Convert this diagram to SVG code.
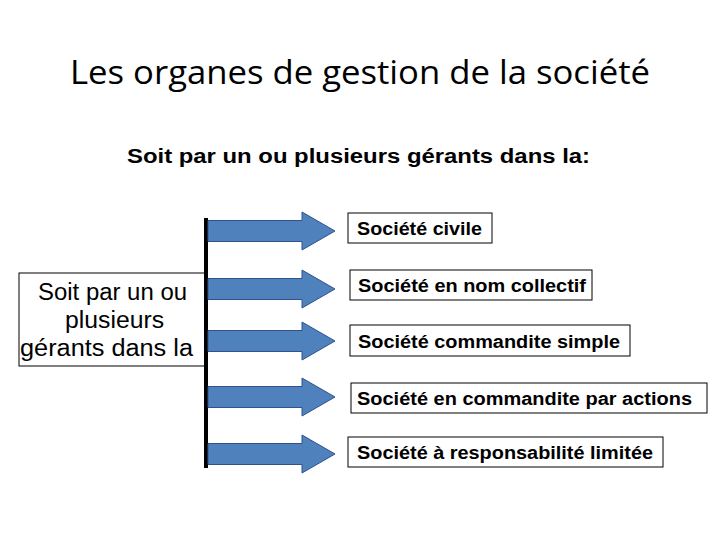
<svg xmlns="http://www.w3.org/2000/svg" width="720" height="540" viewBox="0 0 720 540">
<style>
.title{font-family:"Open Sans","Liberation Sans",sans-serif;font-size:33px;fill:#000}
.sub{font-family:"Liberation Sans",Arial,sans-serif;font-size:20px;font-weight:bold;fill:#000}
.lbl{font-family:"Liberation Sans",Arial,sans-serif;font-size:18px;font-weight:bold;fill:#000}
.left{font-family:"Liberation Sans",Arial,sans-serif;font-size:23px;fill:#000}
.box{fill:#fff;stroke:#000;stroke-width:1}
.arrow{fill:#4f81bd;stroke:#2f528f;stroke-width:1}
</style>
<defs>
<path id="arr" d="M0,-10.5 H94 V-19 L127,0 L94,19 V10.5 H0 Z"/>
</defs>
<rect width="720" height="540" fill="#fff"/>
<text class="title" x="360" y="84" text-anchor="middle" textLength="580" lengthAdjust="spacingAndGlyphs">Les organes de gestion de la société</text>
<text class="sub" x="127" y="163" textLength="463" lengthAdjust="spacingAndGlyphs">Soit par un ou plusieurs gérants dans la:</text>

<g id="source">
<rect class="box" x="19" y="273" width="188" height="93"/>
<text class="left" x="38" y="300" textLength="149" lengthAdjust="spacingAndGlyphs">Soit par un ou</text>
<text class="left" x="65" y="328" textLength="99" lengthAdjust="spacingAndGlyphs">plusieurs</text>
<text class="left" x="20" y="356" textLength="173" lengthAdjust="spacingAndGlyphs">gérants dans la</text>
</g>

<g id="connectors">
<rect x="204" y="218" width="4" height="250" fill="#000"/>
<use href="#arr" class="arrow" transform="translate(208,231)"/>
<use href="#arr" class="arrow" transform="translate(208,289)"/>
<use href="#arr" class="arrow" transform="translate(208,341)"/>
<use href="#arr" class="arrow" transform="translate(208,397)"/>
<use href="#arr" class="arrow" transform="translate(208,454)"/>
</g>

<g id="n1"><rect class="box" x="348" y="213" width="144" height="30"/><text class="lbl" x="357" y="235" textLength="125" lengthAdjust="spacingAndGlyphs">Société civile</text></g>
<g id="n2"><rect class="box" x="350" y="270" width="242" height="30"/><text class="lbl" x="358" y="292" textLength="228" lengthAdjust="spacingAndGlyphs">Société en nom collectif</text></g>
<g id="n3"><rect class="box" x="350" y="325" width="280" height="31"/><text class="lbl" x="358" y="348" textLength="262" lengthAdjust="spacingAndGlyphs">Société commandite simple</text></g>
<g id="n4"><rect class="box" x="351" y="383" width="356" height="30"/><text class="lbl" x="357" y="405" textLength="335" lengthAdjust="spacingAndGlyphs">Société en commandite par actions</text></g>
<g id="n5"><rect class="box" x="348" y="437" width="315" height="30"/><text class="lbl" x="357" y="459" textLength="296" lengthAdjust="spacingAndGlyphs">Société à responsabilité limitée</text></g>
</svg>
